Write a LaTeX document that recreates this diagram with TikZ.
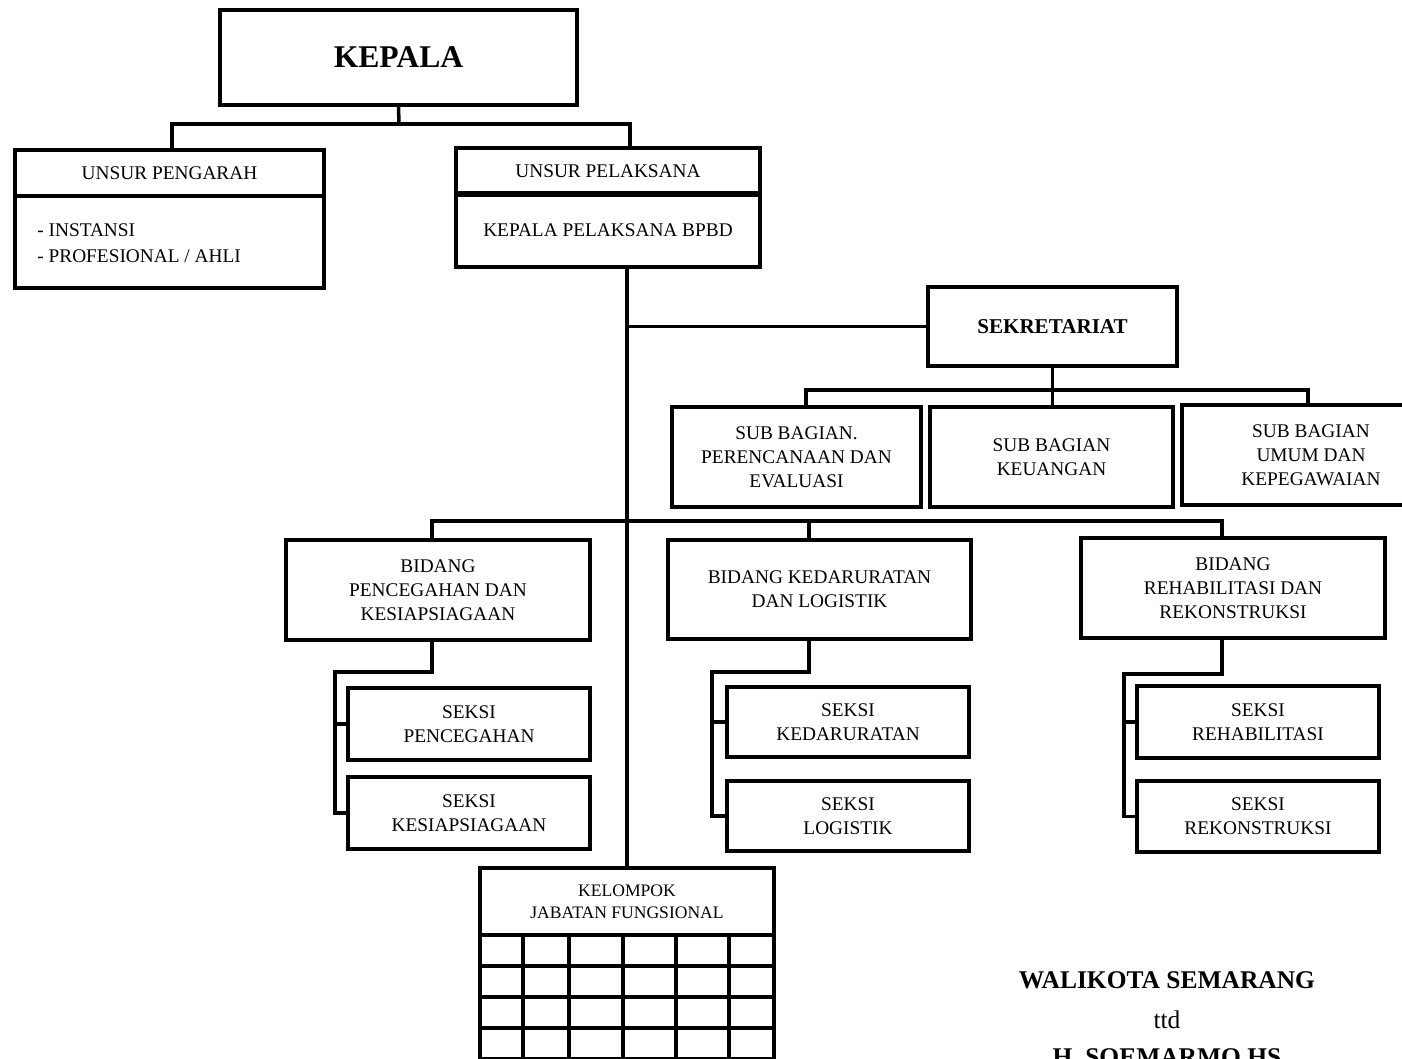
\documentclass[tikz,border=0pt]{standalone}
\usepackage{fontspec}
\setmainfont{Liberation Serif}
\usetikzlibrary{calc}

\begin{document}
\begin{tikzpicture}[x=0.02cm, y=-0.02cm,
		box_style/.style={draw=black, line width=2pt, inner sep=0pt, align=center, font=\fontsize{11}{13.6}\selectfont},
		box_size/.style 2 args={minimum width=#1*0.02cm, minimum height=#2*0.02cm},
		small_style/.style={font=\fontsize{10}{12.5}\selectfont},
		title_style/.style={font=\fontsize{14.5}{17}\selectfont\bfseries},
		edge_style/.style={draw=black, line width=2pt}]

		\useasboundingbox (0,0) rectangle (1402,1058);

		\node[box_style, box_size={357}{95}, font=\fontsize{18}{20}\selectfont\bfseries] (kepala) at (398.5,57.5) {KEPALA};

		\node[box_style, box_size={309}{46}] (pengarah_head) at (169.5,173) {UNSUR PENGARAH};
		\node[box_style, box_size={309}{92}] (pengarah_body) at (169.5,242) {};
		\node[align=left, inner sep=0pt, anchor=west, font=\fontsize{11}{15}\selectfont] (pengarah_list) at (37,243) {- INSTANSI\\- PROFESIONAL / AHLI};

		\node[box_style, box_size={304}{47}] (pelaksana_head) at (608,171.5) {UNSUR PELAKSANA};
		\node[box_style, box_size={304}{74}] (pelaksana_body) at (608,230) {KEPALA PELAKSANA BPBD};

		\node[box_style, box_size={249}{79}, font=\fontsize{12}{14}\selectfont\bfseries] (sekretariat) at (1052.5,326.5) {SEKRETARIAT};

		\node[box_style, box_size={249}{100}] (sb1) at (796.5,457) {SUB BAGIAN.\\PERENCANAAN DAN\\EVALUASI};
		\node[box_style, box_size={243}{100}] (sb2) at (1051.5,457) {SUB BAGIAN\\KEUANGAN};
		\node[box_style, box_size={258}{100}] (sb3) at (1311,455) {SUB BAGIAN\\UMUM DAN\\KEPEGAWAIAN};

		\node[box_style, box_size={304}{100}] (bidang1) at (438,590) {BIDANG\\PENCEGAHAN DAN\\KESIAPSIAGAAN};
		\node[box_style, box_size={303}{99}] (bidang2) at (819.5,589.5) {BIDANG KEDARURATAN\\DAN LOGISTIK};
		\node[box_style, box_size={304}{100}] (bidang3) at (1233,588) {BIDANG\\REHABILITASI DAN\\REKONSTRUKSI};

		\node[box_style, box_size={242}{72}] (seksi11) at (469,724) {SEKSI\\PENCEGAHAN};
		\node[box_style, box_size={242}{72}] (seksi12) at (469,813) {SEKSI\\KESIAPSIAGAAN};
		\node[box_style, box_size={242}{70}] (seksi21) at (848,722) {SEKSI\\KEDARURATAN};
		\node[box_style, box_size={242}{70}] (seksi22) at (848,816) {SEKSI\\LOGISTIK};
		\node[box_style, box_size={242}{72}] (seksi31) at (1258,722) {SEKSI\\REHABILITASI};
		\node[box_style, box_size={242}{71}] (seksi32) at (1258,816.5) {SEKSI\\REKONSTRUKSI};

		\node[box_style, box_size={294}{67}, small_style] (kelompok) at (627,901.5) {KELOMPOK\\JABATAN FUNGSIONAL};

		% grid below kelompok
		\foreach \gx in {480,523,569,623,676,729,774}
			\draw[edge_style] (\gx,935) -- (\gx,1080);
		\foreach \gy in {966,997,1028,1059}
			\draw[edge_style] (480,\gy) -- (774,\gy);

		\node[title_style] (walikota) at (1167,980) {WALIKOTA SEMARANG};
		\node[font=\fontsize{14.5}{17}\selectfont] (ttd) at (1167,1020) {ttd};
		\node[title_style] (nama) at (1167,1057) {H. SOEMARMO HS};

		% connectors
		\coordinate (bus_top) at (399,124);
		\coordinate (drop_pg) at (172,124);
		\coordinate (drop_pl) at (630,124);
		\draw[edge_style] (kepala.south) -- (bus_top);
		\draw[edge_style] (drop_pg |- pengarah_head.north) |- (drop_pl) -- (drop_pl |- pelaksana_head.north);

		\draw[edge_style] (kelompok.north) -- (kelompok.north |- pelaksana_body.south);
		\draw[edge_style] (sekretariat.west) -- (sekretariat.west -| kelompok.north);

		\coordinate (drop_sb1) at (806,390);
		\coordinate (drop_sb3) at (1308,390);
		\draw[edge_style] (sekretariat.south) -- (sekretariat.south |- sb2.north);
		\draw[edge_style] (drop_sb1 |- sb1.north) |- (drop_sb3) -- (drop_sb3 |- sb3.north);

		\coordinate (drop_b1) at (432,521);
		\coordinate (drop_b2) at (809,521);
		\coordinate (drop_b3) at (1222,521);
		\draw[edge_style] (drop_b1 |- bidang1.north) |- (drop_b3) -- (drop_b3 |- bidang3.north);
		\draw[edge_style] (drop_b2) -- (drop_b2 |- bidang2.north);

		\coordinate (spine1) at (335,672);
		\coordinate (spine2) at (712,672);
		\coordinate (spine3) at (1124,674);
		\draw[edge_style] (drop_b1 |- bidang1.south) |- (spine1) |- (seksi12.west);
		\draw[edge_style] (spine1 |- seksi11.west) -- (seksi11.west);
		\draw[edge_style] (drop_b2 |- bidang2.south) |- (spine2) |- (seksi22.west);
		\draw[edge_style] (spine2 |- seksi21.west) -- (seksi21.west);
		\draw[edge_style] (drop_b3 |- bidang3.south) |- (spine3) |- (seksi32.west);
		\draw[edge_style] (spine3 |- seksi31.west) -- (seksi31.west);

\end{tikzpicture}
\end{document}
